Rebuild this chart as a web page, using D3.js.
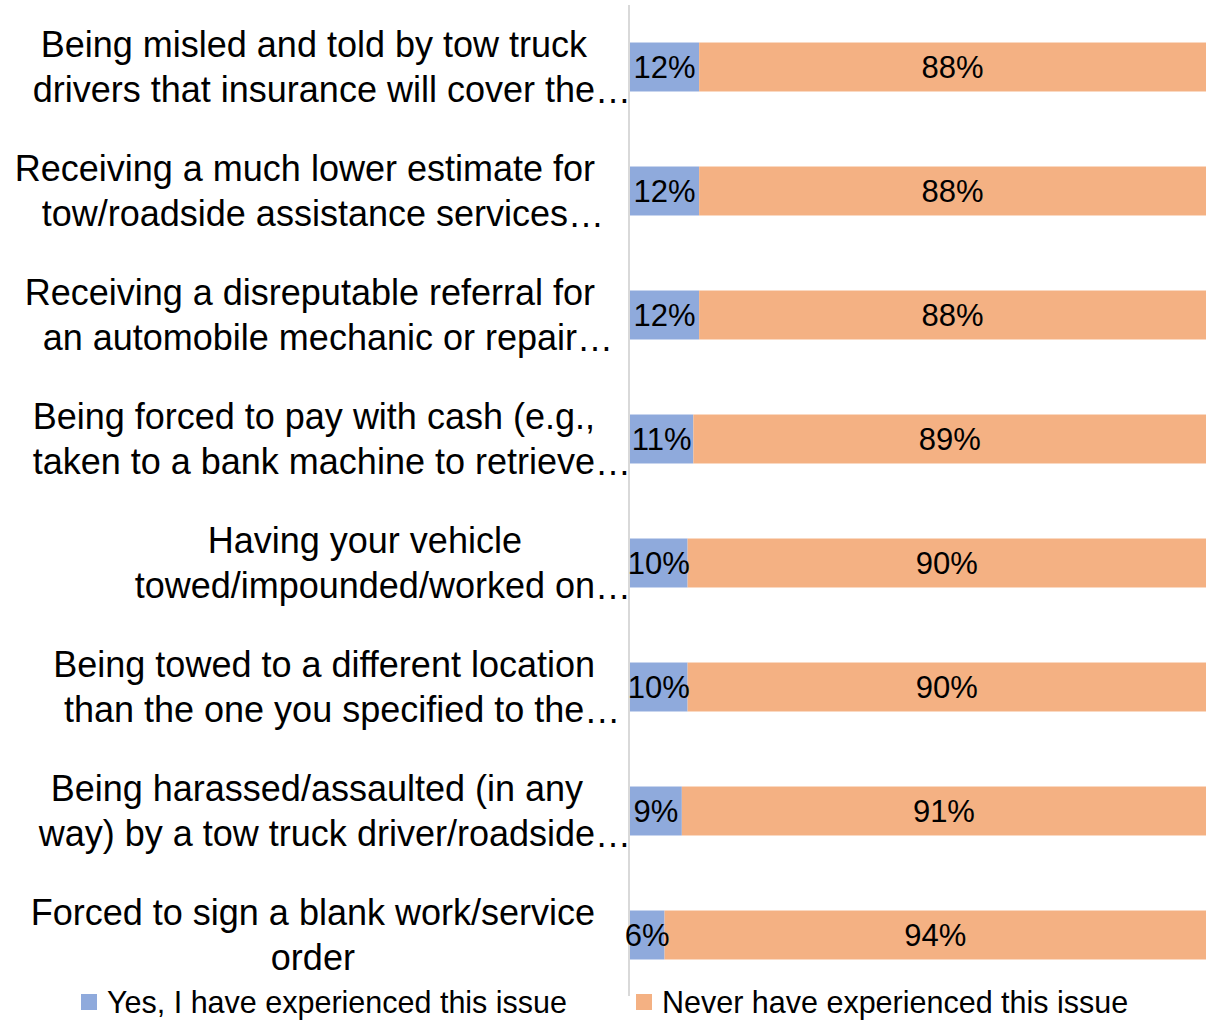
<!DOCTYPE html>
<html>
<head>
<meta charset="utf-8">
<script src="https://cdn.jsdelivr.net/npm/d3@7"></script>
<style>
  html, body { margin: 0; padding: 0; background: #fff; }
  svg { display: block; }
  text { font-family: "Liberation Sans", Arial, sans-serif; fill: #000; }
</style>
</head>
<body>
<svg id="chart" width="1206" height="1022"></svg>
<script>
const categories = [
  ["Being misled and told by tow truck", "drivers that insurance will cover the…"],
  ["Receiving a much lower estimate for", "tow/roadside assistance services…"],
  ["Receiving a disreputable referral for", "an automobile mechanic or repair…"],
  ["Being forced to pay with cash (e.g.,", "taken to a bank machine to retrieve…"],
  ["Having your vehicle", "towed/impounded/worked on…"],
  ["Being towed to a different location", "than the one you specified to the…"],
  ["Being harassed/assaulted (in any", "way) by a tow truck driver/roadside…"],
  ["Forced to sign a blank work/service", "order"]
];
const yesValues = [12, 12, 12, 11, 10, 10, 9, 6];
const neverValues = [88, 88, 88, 89, 90, 90, 91, 94];
const seriesNames = ["Yes, I have experienced this issue", "Never have experienced this issue"];
const seriesColors = ["#8FAADC", "#F4B183"];

const svg = d3.select("#chart");
const idx = d3.range(categories.length);

const y = d3.scaleBand().domain(idx).range([5, 997]).paddingInner(0.605).paddingOuter(0.3025);
const x = d3.scaleLinear().domain([0, 100]).range([630, 1206]);

// axis line (behind labels)
svg.append("line")
  .attr("x1", x(0) - 1).attr("x2", x(0) - 1)
  .attr("y1", 5).attr("y2", 996)
  .attr("stroke", "#D9D9D9").attr("stroke-width", 2);

// bars
const rows = idx.map(i => ({i, segs: [
  {k: 0, x0: 0, x1: yesValues[i], v: yesValues[i]},
  {k: 1, x0: yesValues[i], x1: yesValues[i] + neverValues[i], v: neverValues[i]}
]}));

const g = svg.append("g");
rows.forEach(r => {
  r.segs.forEach(s => {
    g.append("rect")
      .attr("x", x(s.x0))
      .attr("y", y(r.i))
      .attr("width", x(s.x1) - x(s.x0))
      .attr("height", y.bandwidth())
      .attr("fill", seriesColors[s.k]);
  });
});
rows.forEach(r => {
  r.segs.forEach(s => {
    g.append("text")
      .attr("x", (x(s.x0) + x(s.x1)) / 2)
      .attr("y", y(r.i) + y.bandwidth() / 2)
      .attr("text-anchor", "middle")
      .attr("dominant-baseline", "central")
      .style("font-size", "31px")
      .text(s.v + "%");
  });
});

// category labels: block right-aligned, lines centred in block, ellipsis hangs
const labelRight = 595;
const labels = svg.append("g");
idx.forEach(i => {
  const cy = y(i) + y.bandwidth() / 2;
  const nodes = categories[i].map((line, j) => {
    const hasEll = line.endsWith("…");
    const base = hasEll ? line.slice(0, -1) : line;
    const t = labels.append("text")
      .attr("y", cy + (j === 0 ? -22.5 : 22.5))
      .attr("dominant-baseline", "central")
      .style("font-size", "36px")
      .text(base);
    const w = t.node().getComputedTextLength();
    return {t, w, hasEll};
  });
  const blockW = d3.max(nodes, n => n.w);
  const center = labelRight - blockW / 2;
  nodes.forEach(n => {
    n.t.attr("x", center - n.w / 2);
    if (n.hasEll) n.t.append("tspan").text("…");
  });
});

// legend
const legendX = [81, 636];
seriesNames.forEach((name, k) => {
  const lg = svg.append("g").attr("transform", `translate(${legendX[k]},1002)`);
  lg.append("rect").attr("x", 0).attr("y", -8).attr("width", 16).attr("height", 16).attr("fill", seriesColors[k]);
  lg.append("text").attr("x", 26).attr("y", 0)
    .attr("dominant-baseline", "central")
    .style("font-size", "30.5px")
    .text(name);
});
</script>
</body>
</html>
